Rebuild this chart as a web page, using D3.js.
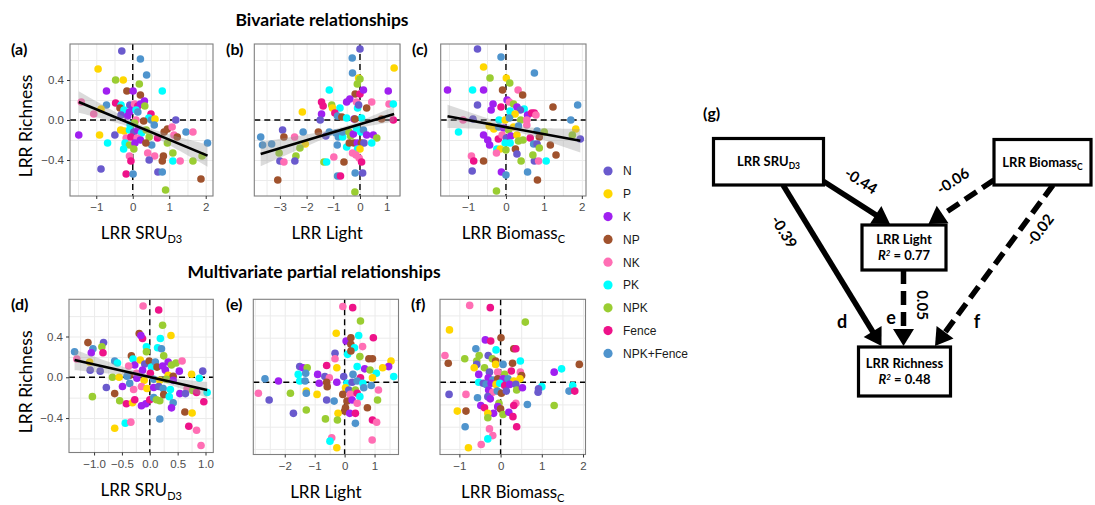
<!DOCTYPE html>
<html>
<head>
<meta charset="utf-8">
<script src="https://cdn.jsdelivr.net/npm/d3@7/dist/d3.min.js"></script>
<style>
  body { margin: 0; background: #fff; }
  svg { display: block; }
</style>
</head>
<body>
<svg id="chart" width="1095" height="505"></svg>
<script>
// ---- data ----
const groups = ["N", "P", "K", "NP", "NK", "PK", "NPK", "Fence", "NPK+Fence"];
const groupColors = ["#6A5ACD", "#FFD700", "#A020F0", "#A0522D", "#FF6EB4", "#00FFFF", "#9ACD32", "#EE1289", "#4F94CD"];

// [x, y, group index]
const pointsA = [[-0.30,0.69,0],[-0.95,0.51,1],[0.21,0.61,8],[0.38,0.45,8],[-0.47,0.40,6],[-0.26,0.40,1],[0.18,0.36,6],[-0.72,0.29,2],[-0.16,0.29,3],[0.01,0.29,2],[0.21,0.25,3],[0.81,0.29,5],[0.32,0.19,2],[-1.41,0.18,4],[-0.72,0.15,8],[-0.47,0.17,7],[-0.32,0.15,5],[-0.35,0.12,3],[-0.08,0.15,0],[0.01,0.13,2],[0.05,0.16,4],[0.14,0.14,7],[0.21,0.16,2],[0.33,0.14,6],[-0.24,0.10,5],[-0.09,0.08,2],[0.09,0.10,5],[0.14,0.08,8],[-0.87,0.11,1],[-1.07,0.06,4],[-0.32,0.05,0],[-0.14,0.04,2],[0.50,0.06,7],[0.44,0.02,5],[0.51,0.00,8],[0.61,0.01,1],[1.18,0.00,0],[0.09,0.00,4],[0.30,-0.01,3],[-0.07,-0.05,5],[0.05,-0.03,6],[-1.48,-0.15,2],[-0.91,-0.15,1],[-0.49,-0.15,0],[-0.33,-0.10,1],[-0.23,-0.11,1],[-0.09,-0.10,5],[0.03,-0.12,0],[0.14,-0.10,2],[0.24,-0.13,5],[0.37,-0.10,6],[0.59,-0.05,8],[0.86,-0.12,3],[0.95,-0.09,3],[1.08,-0.07,4],[1.13,-0.15,4],[1.46,-0.12,8],[1.65,-0.12,4],[1.22,-0.17,3],[-0.69,-0.23,5],[-0.18,-0.18,4],[-0.05,-0.17,7],[0.12,-0.18,4],[0.21,-0.20,2],[0.45,-0.17,6],[0.52,-0.25,8],[0.68,-0.18,7],[0.95,-0.23,6],[-0.21,-0.23,5],[-0.09,-0.25,6],[0.06,-0.23,2],[-0.25,-0.29,5],[0.03,-0.29,6],[0.36,-0.23,3],[2.05,-0.23,8],[-0.09,-0.36,4],[0.41,-0.33,4],[0.60,-0.36,4],[0.84,-0.36,3],[1.10,-0.33,6],[0.45,-0.40,0],[-0.05,-0.41,7],[0.81,-0.41,3],[1.10,-0.41,5],[1.30,-0.41,4],[1.65,-0.41,6],[1.90,-0.36,6],[-0.87,-0.49,0],[-0.18,-0.54,7],[0.01,-0.54,8],[0.69,-0.52,0],[0.81,-0.52,8],[1.87,-0.59,3],[0.90,-0.70,6]];

const pointsB = [[0,0.71,0],[-0.29,0.62,8],[1.28,0.52,1],[-0.28,0.47,8],[-0.05,0.42,1],[0,0.41,6],[-0.10,0.36,6],[-1.15,0.30,5],[-0.18,0.26,3],[0,0.26,7],[0.13,0.30,2],[1.06,0.29,2],[-0.38,0.21,2],[-0.50,0.18,2],[-0.13,0.18,4],[0.44,0.18,4],[-1.44,0.18,7],[-1.38,0.14,7],[-1.06,0.15,6],[-1.03,0.12,1],[-0.75,0.12,5],[-0.09,0.12,5],[0.25,0.12,3],[-0.05,0.15,0],[1.09,0.16,4],[1.25,0.16,5],[-2.16,0.08,1],[-1.44,0.06,2],[-0.94,0.07,7],[-0.84,0.04,8],[-0.68,0.03,3],[-0.50,0.02,5],[-0.22,0.01,2],[0.06,0.02,5],[-0.19,0.01,3],[0.81,0.01,3],[1.25,0,7],[-1.49,0,0],[-3.72,-0.17,8],[-3.65,-0.25,8],[-3.31,-0.24,8],[-2.9,-0.10,0],[-2.85,-0.17,3],[-2.45,-0.17,4],[-2.13,-0.12,8],[-2.05,-0.24,1],[-2.25,-0.28,6],[-1.56,-0.12,3],[-1.28,-0.16,0],[-1.15,-0.12,8],[-0.9,-0.13,8],[-0.81,-0.17,8],[-0.65,-0.17,5],[-0.65,-0.12,8],[-0.41,-0.12,6],[-0.35,-0.16,6],[-0.25,-0.14,2],[-0.13,-0.08,5],[0.03,-0.12,5],[0.13,-0.10,8],[0.25,-0.15,2],[0.5,-0.15,2],[0.63,-0.18,6],[-0.85,-0.25,8],[-0.5,-0.27,5],[-0.4,-0.23,3],[-0.22,-0.23,3],[-0.1,-0.23,2],[0.05,-0.23,3],[0.15,-0.23,0],[0.44,-0.23,5],[-0.09,-0.29,5],[0,-0.29,1],[-0.28,-0.33,4],[-0.15,-0.35,4],[-0.03,-0.38,4],[0.06,-0.42,7],[-3.03,-0.33,6],[-2.4,-0.36,6],[-3.0,-0.41,0],[-2.85,-0.42,4],[-2.44,-0.41,0],[-0.98,-0.37,4],[-1.35,-0.42,6],[-1.25,-0.42,5],[-0.6,-0.42,3],[-0.84,-0.56,8],[-0.73,-0.56,7],[-0.18,-0.53,8],[0.1,-0.53,0],[-3.08,-0.60,3],[-0.19,-0.72,6]];

const pointsC = [[-0.75,0.71,0],[-0.13,0.63,8],[-0.59,0.53,1],[0.75,0.47,8],[-0.42,0.42,6],[0.01,0.42,1],[0.10,0.37,6],[-1.54,0.30,2],[-0.88,0.30,5],[-0.59,0.30,2],[-0.09,0.30,3],[0.32,0.30,4],[0.44,0.25,3],[-0.75,0.15,0],[-0.34,0.16,2],[-0.13,0.13,7],[-0.39,0.10,2],[0.03,0.20,2],[0.09,0.18,4],[0.20,0.16,6],[0.29,0.13,2],[0.48,0.11,5],[0.38,0.10,0],[1.24,0.13,3],[1.89,0.15,8],[0.11,0.09,5],[0.13,0.05,5],[0.24,0.06,1],[0.57,0.05,2],[0.68,0.07,7],[0.75,0.07,7],[0.79,0.05,4],[-1.13,0,4],[-0.87,0.01,0],[-0.18,0,5],[-0.02,0,1],[0.09,0.02,8],[0.39,0,6],[0.55,0,4],[1.71,0,8],[-1.25,-0.12,5],[-0.44,-0.06,1],[-0.32,-0.09,1],[-0.19,-0.07,8],[-0.06,-0.08,2],[0.07,-0.10,6],[0.20,-0.07,1],[0.33,-0.06,8],[0.55,-0.05,4],[0.82,-0.11,8],[1.01,-0.12,6],[1.84,-0.09,1],[1.75,-0.15,6],[1.96,-0.19,0],[-0.59,-0.15,2],[-0.48,-0.20,2],[-0.43,-0.25,2],[-0.20,-0.19,7],[-0.10,-0.15,4],[0.01,-0.18,0],[0.13,-0.16,2],[0.29,-0.15,1],[0.33,-0.21,6],[0.45,-0.20,6],[0.64,-0.18,7],[0.88,-0.17,3],[-0.02,-0.23,5],[0.11,-0.23,5],[0.73,-0.24,8],[0.82,-0.24,0],[1.17,-0.25,3],[-0.24,-0.29,5],[-0.15,-0.29,1],[0,-0.30,6],[0.25,-0.29,3],[-0.25,-0.33,4],[0.29,-0.34,0],[0.88,-0.28,6],[-0.91,-0.36,4],[-0.85,-0.41,7],[-0.59,-0.41,3],[0.40,-0.41,6],[0.75,-0.41,0],[0.86,-0.41,4],[1.06,-0.41,5],[0.71,-0.35,6],[1.32,-0.35,3],[-0.89,-0.51,0],[-0.12,-0.52,2],[0,-0.55,8],[0.57,-0.52,8],[0.83,-0.60,3],[-0.25,-0.71,6]];

const pointsD = [[-0.12,0.70,4],[0.16,0.66,7],[0.23,0.51,6],[0.38,0.41,1],[-0.19,0.43,3],[-0.13,0.38,7],[-0.16,0.41,2],[0.19,0.38,5],[-1.11,0.34,3],[-0.83,0.34,0],[-1.35,0.25,8],[-1.02,0.28,8],[-1.05,0.24,2],[-0.86,0.30,6],[-0.84,0.24,7],[-0.06,0.30,5],[-0.06,0.25,6],[0.14,0.29,5],[0.21,0.28,8],[0.25,0.21,6],[-0.33,0.21,3],[-1.31,0.18,4],[-1.08,0.15,1],[-0.63,0.16,8],[-0.58,0.14,5],[-0.30,0.18,5],[-0.27,0.12,2],[-0.17,0.17,1],[-0.09,0.13,0],[-0.01,0.16,3],[0.03,0.10,5],[0.10,0.15,8],[0.13,0.10,3],[0.23,0.11,2],[0.33,0.15,2],[0.39,0.12,6],[0.47,0.14,6],[0.58,0.16,4],[0.95,0.06,0],[-1.07,0.07,0],[-0.89,0.06,0],[-0.38,0.11,4],[-0.36,0.02,3],[-0.24,0.04,4],[-0.13,0.07,2],[0.01,0.04,7],[0.28,0.07,2],[0.33,0.02,1],[0.42,0.01,3],[0.53,0.06,2],[0.75,0.03,1],[0.89,-0.01,5],[-0.67,0,6],[-0.55,0,1],[-0.41,0.01,8],[-0.23,-0.01,2],[-0.10,-0.03,1],[0.07,-0.02,8],[0.18,-0.03,1],[0.30,-0.02,6],[0.42,-0.03,2],[-0.78,-0.10,0],[-0.49,-0.09,2],[-0.36,-0.06,8],[-0.29,-0.12,4],[-0.15,-0.09,4],[-0.05,-0.11,1],[0.07,-0.10,2],[0.16,-0.09,0],[0.24,-0.11,8],[0.37,-0.12,5],[0.67,-0.11,4],[0.54,-0.16,2],[0.64,-0.16,0],[0.77,-0.13,6],[0.84,-0.15,7],[1.03,-0.15,5],[-0.63,-0.16,3],[-1.03,-0.19,6],[-0.54,-0.23,6],[-0.42,-0.26,7],[-0.31,-0.25,1],[-0.27,-0.22,7],[-0.15,-0.28,2],[-0.07,-0.26,2],[0,-0.22,7],[0.07,-0.20,8],[0.12,-0.22,6],[0.18,-0.23,6],[0.25,-0.17,3],[0.35,-0.19,5],[0.42,-0.25,8],[0.39,-0.30,2],[0.63,-0.34,3],[0.76,-0.35,1],[0.97,-0.24,7],[-0.63,-0.50,1],[-0.44,-0.45,5],[-0.34,-0.44,4],[0.18,-0.41,8],[0.70,-0.48,7],[0.84,-0.52,4],[0.92,-0.67,4]];

const pointsE = [[-0.06,0.68,4],[0.27,0.67,7],[0.53,0.55,6],[-0.28,0.44,1],[0.05,0.37,2],[0.21,0.40,3],[0.47,0.42,5],[0.96,0.40,7],[0.21,0.34,3],[0.33,0.31,5],[0.60,0.32,4],[-0.32,0.26,0],[-0.32,0.21,4],[0.10,0.25,5],[0.21,0.28,3],[0.51,0.23,6],[0.81,0.21,3],[0.93,0.21,3],[1.55,0.19,1],[1.47,0.14,2],[1.27,0.13,1],[-1.50,0.14,0],[-1.39,0.13,2],[-1.25,0.13,6],[-0.60,0.15,7],[-0.26,0.13,1],[0.42,0.14,5],[0.67,0.12,2],[0.85,0.11,6],[1.06,0.08,5],[-1.55,0.07,5],[-1.30,0.08,8],[-0.90,0.07,2],[-0.66,0.05,0],[-0.51,0.04,4],[-0.03,0.05,0],[0.28,0.07,8],[0.53,0.04,7],[0.93,0.04,1],[1.64,0.05,5],[-2.66,0.03,8],[-2.21,0.01,2],[-1.50,0.01,5],[-1.32,0.01,8],[-0.85,-0.01,2],[-0.60,0,3],[-0.58,-0.04,3],[-0.26,0,2],[0.08,-0.01,5],[0.25,0,0],[0.42,0.01,8],[0.61,-0.01,5],[0.89,-0.03,8],[-1.28,-0.08,1],[0.03,-0.05,1],[0.14,-0.07,0],[0.36,-0.07,6],[0.64,-0.05,8],[1.13,-0.07,4],[-2.88,-0.10,4],[-1.81,-0.10,6],[-1.28,-0.10,8],[-0.92,-0.11,1],[-0.06,-0.11,3],[0.19,-0.11,4],[0.42,-0.10,7],[0.51,-0.13,5],[-2.52,-0.16,0],[-0.60,-0.16,0],[-0.35,-0.17,8],[0.08,-0.17,3],[0.25,-0.16,2],[0.42,-0.19,4],[1.10,-0.16,6],[-1.28,-0.25,6],[0.03,-0.23,3],[0,-0.26,3],[0.17,-0.28,2],[0.36,-0.28,7],[0.76,-0.23,3],[-1.71,-0.28,0],[-0.22,-0.28,1],[-0.64,-0.33,6],[-0.24,-0.34,6],[0.36,-0.37,8],[0.93,-0.34,7],[1.07,-0.36,4],[-0.43,-0.50,4],[-0.49,-0.53,5],[0.92,-0.52,4],[-0.26,-0.59,1]];

const pointsF = [[-0.75,0.69,4],[-0.25,0.67,7],[0.60,0.54,6],[-1.24,0.47,1],[0.01,0.40,3],[-0.37,0.38,2],[-0.24,0.37,7],[-0.60,0.30,8],[-0.11,0.29,5],[0.32,0.30,3],[0.37,0.30,7],[-1.35,0.24,4],[-1.27,0.17,3],[-0.87,0.21,6],[-0.58,0.19,6],[-0.52,0.24,6],[-0.30,0.24,0],[-0.20,0.21,6],[-0.12,0.19,3],[-0.58,0.16,0],[-0.64,0.13,1],[-0.39,0.13,6],[-0.12,0.16,1],[0.06,0.16,8],[0.29,0.17,3],[0.48,0.19,5],[1.91,0.16,3],[1.48,0.12,5],[1.30,0.09,2],[-0.53,0.07,2],[-0.27,0.09,0],[-0.07,0.09,4],[0.10,0.07,6],[0.26,0.10,7],[0.48,0.09,4],[0.51,0.06,3],[-0.30,0.04,2],[-0.19,0.02,8],[-0.07,0.03,3],[0.06,0.03,2],[0.18,0.03,8],[0.32,0.01,1],[0.47,0.03,1],[-0.53,0,5],[-0.42,-0.01,0],[-0.35,-0.02,8],[-0.23,-0.01,2],[-0.11,-0.02,1],[-0.02,-0.01,5],[0.10,-0.03,7],[0.22,-0.02,2],[0.37,-0.02,0],[1.00,-0.04,5],[0.92,-0.06,0],[0.91,-0.09,0],[1.75,-0.03,5],[1.66,-0.08,8],[1.80,-0.08,7],[-1.25,-0.11,0],[-0.84,-0.11,4],[-0.29,-0.07,2],[-0.19,-0.09,4],[-0.08,-0.08,8],[0.02,-0.10,3],[0.14,-0.08,0],[0.39,-0.07,6],[0.53,-0.05,2],[-0.56,-0.14,8],[-0.31,-0.13,0],[-0.25,-0.15,2],[-0.04,-0.19,6],[0.37,-0.19,4],[0.32,-0.21,7],[0.65,-0.20,8],[1.30,-0.21,6],[-0.48,-0.21,2],[-0.39,-0.23,7],[-0.07,-0.22,2],[0,-0.24,3],[-0.17,-0.28,2],[0.06,-0.29,6],[0.20,-0.27,2],[-1.05,-0.26,1],[-0.84,-0.26,3],[-0.31,-0.28,1],[-0.31,-0.32,6],[0.30,-0.31,7],[-0.86,-0.40,8],[-0.27,-0.42,4],[-0.19,-0.48,4],[-0.31,-0.51,5],[0.39,-0.40,7],[-0.47,-0.56,4],[-0.78,-0.59,1]];

// fitted linear trends with 95% band (se = sqrt(seMin^2 + seK*(x - xMean)^2))
const fitA = { intercept: -0.045, slope: -0.152, xMean: 0.25, seMin: 0.03, seK: 0.0035 };
const fitB = { intercept: -0.043, slope: 0.080, xMean: -0.6, seMin: 0.025, seK: 0.00144 };
const fitC = { intercept: -0.071, slope: -0.070, xMean: 0.2, seMin: 0.03, seK: 0.0042 };
const fitD = { intercept: 0.003, slope: -0.124, xMean: 0.0, seMin: 0.02, seK: 0.0053 };

// structural equation model
const semNodes = [
  { id: "SRU", lines: [["LRR SRU", "D3"]] },
  { id: "Biomass", lines: [["LRR Biomass", "C"]] },
  { id: "Light", lines: [["LRR Light", ""], ["R2", "0.77"]] },
  { id: "Richness", lines: [["LRR Richness", ""], ["R2", "0.48"]] }
];
const semEdges = [
  { from: "SRU", to: "Light", coef: "-0.44", dashed: false },
  { from: "Biomass", to: "Light", coef: "-0.06", dashed: true },
  { from: "SRU", to: "Richness", coef: "-0.39", dashed: false },
  { from: "Light", to: "Richness", coef: "0.05", dashed: true },
  { from: "Biomass", to: "Richness", coef: "-0.02", dashed: true }
];

// ---- layout ----
const svg = d3.select("#chart");
const titleFont = "Lato, 'Open Sans', sans-serif";
const tickFont = "'Liberation Sans', Arial, sans-serif";

const panels = [
  { label: "(a)", lx: 11, pts: pointsA, fit: fitA, box: [70, 44, 213, 196], xd: [-1.72, 2.2], yd: [-0.76, 0.76],
    xt: [-1, 0, 1, 2], xg: 0.5, yt: [-0.4, 0, 0.4], fmt: d3.format("d"), title: ["LRR SRU", "D3"], yLab: true },
  { label: "(b)", lx: 226, pts: pointsB, fit: fitB, box: [254.3, 44, 400, 196], xd: [-3.96, 1.5], yd: [-0.76, 0.76],
    xt: [-3, -2, -1, 0, 1], xg: 0.5, fmt: d3.format("d"), title: ["LRR Light", ""] },
  { label: "(c)", lx: 412, pts: pointsC, fit: fitC, box: [440.7, 44, 586, 196], xd: [-1.72, 2.11], yd: [-0.76, 0.76],
    xt: [-1, 0, 1, 2], xg: 0.5, fmt: d3.format("d"), title: ["LRR Biomass", "C"] },
  { label: "(d)", lx: 11, pts: pointsD, fit: fitD, box: [69, 299.3, 213.3, 452.5], xd: [-1.45, 1.14], yd: [-0.738, 0.765],
    xt: [-1, -0.5, 0, 0.5, 1], xg: 0.25, yt: [-0.4, 0, 0.4], fmt: d3.format(".1f"), title: ["LRR SRU", "D3"], yLab: true },
  { label: "(e)", lx: 226, pts: pointsE, box: [253.3, 299.3, 398.5, 454.5], xd: [-3.05, 1.8], yd: [-0.65, 0.745],
    xt: [-2, -1, 0, 1], xg: 0.5, fmt: d3.format("d"), title: ["LRR Light", ""] },
  { label: "(f)", lx: 411, pts: pointsF, box: [440, 299.3, 585.5, 454.5], xd: [-1.47, 2.06], yd: [-0.65, 0.745],
    xt: [-1, 0, 1, 2], xg: 0.5, fmt: d3.format("d"), title: ["LRR Biomass", "C"] }
];

function gridValues(dom, step) {
  return d3.range(Math.ceil(dom[0] / step) * step, dom[1] + 1e-9, step);
}

function drawPanel(p) {
  const [x0, y0, x1, y1] = p.box;
  const x = d3.scaleLinear().domain(p.xd).range([x0, x1]);
  const y = d3.scaleLinear().domain(p.yd).range([y1, y0]);
  const g = svg.append("g");

  // 背景格線
  g.append("g").attr("transform", `translate(0,${y1})`)
    .call(d3.axisBottom(x).tickValues(gridValues(p.xd, p.xg)).tickSize(-(y1 - y0)).tickFormat(""))
    .call(s => s.select(".domain").remove())
    .call(s => s.selectAll("line").attr("stroke", "#EBEBEB").attr("stroke-width", 1));
  g.append("g").attr("transform", `translate(${x0},0)`)
    .call(d3.axisLeft(y).tickValues(gridValues(p.yd, 0.2)).tickSize(-(x1 - x0)).tickFormat(""))
    .call(s => s.select(".domain").remove())
    .call(s => s.selectAll("line").attr("stroke", "#EBEBEB").attr("stroke-width", 1));

  // 零值參考虛線
  g.append("line").attr("x1", x(0)).attr("x2", x(0)).attr("y1", y0).attr("y2", y1)
    .attr("stroke", "#000").attr("stroke-width", 1.4).attr("stroke-dasharray", "6,4");
  g.append("line").attr("x1", x0).attr("x2", x1).attr("y1", y(0)).attr("y2", y(0))
    .attr("stroke", "#000").attr("stroke-width", 1.4).attr("stroke-dasharray", "6,4");

  // 資料點
  g.append("g").selectAll("circle").data(p.pts).join("circle")
    .attr("cx", d => x(d[0])).attr("cy", d => y(d[1])).attr("r", 3.8)
    .attr("fill", d => groupColors[d[2]]);

  // 迴歸線與信賴帶
  if (p.fit) {
    const f = p.fit;
    const ext = d3.extent(p.pts, d => d[0]);
    const xs = d3.range(0, 61).map(i => ext[0] + (ext[1] - ext[0]) * i / 60);
    const mu = v => f.intercept + f.slope * v;
    const se = v => Math.sqrt(f.seMin * f.seMin + f.seK * (v - f.xMean) ** 2);
    g.append("path").datum(xs)
      .attr("d", d3.area().x(v => x(v)).y0(v => y(mu(v) - se(v))).y1(v => y(mu(v) + se(v))))
      .attr("fill", "#999").attr("fill-opacity", 0.35);
    g.append("line").attr("x1", x(ext[0])).attr("y1", y(mu(ext[0])))
      .attr("x2", x(ext[1])).attr("y2", y(mu(ext[1])))
      .attr("stroke", "#000").attr("stroke-width", 2.6);
  }

  // 外框
  g.append("rect").attr("x", x0).attr("y", y0).attr("width", x1 - x0).attr("height", y1 - y0)
    .attr("fill", "none").attr("stroke", "#7F7F7F").attr("stroke-width", 1.1);

  // x 軸刻度
  const ax = g.append("g").attr("transform", `translate(0,${y1})`)
    .call(d3.axisBottom(x).tickValues(p.xt).tickSize(3).tickPadding(4).tickFormat(p.fmt));
  ax.select(".domain").remove();
  ax.selectAll("line").attr("stroke", "#333");
  ax.selectAll("text").attr("fill", "#4D4D4D").style("font-family", tickFont).style("font-size", "11.5px");

  if (p.yLab) {
    const ay = g.append("g").attr("transform", `translate(${x0},0)`)
      .call(d3.axisLeft(y).tickValues(p.yt).tickSize(3).tickPadding(3).tickFormat(d3.format(".1f")));
    ay.select(".domain").remove();
    ay.selectAll("line").attr("stroke", "#333");
    ay.selectAll("text").attr("fill", "#4D4D4D").style("font-family", tickFont).style("font-size", "11.5px");
    svg.append("text")
      .attr("transform", `translate(32,${(y0 + y1) / 2 + 6}) rotate(-90)`)
      .attr("text-anchor", "middle")
      .style("font-family", titleFont).style("font-size", "17.5px")
      .text("LRR Richness");
  }

  // x 軸標題（含下標）
  const t = svg.append("text").attr("x", (x0 + x1) / 2).attr("y", y1 + 43)
    .attr("text-anchor", "middle")
    .style("font-family", titleFont).style("font-size", "17px");
  t.append("tspan").text(p.title[0]);
  if (p.title[1]) t.append("tspan").attr("dy", 4).style("font-size", "11px").text(p.title[1]);

  // 面板編號
  svg.append("text").attr("x", p.lx).attr("y", y0 + 11)
    .style("font-family", titleFont).style("font-weight", "bold").style("font-size", "16px")
    .text(p.label);
}

panels.forEach(drawPanel);

// 標題
svg.append("text").attr("x", 322).attr("y", 26).attr("text-anchor", "middle")
  .style("font-family", titleFont).style("font-weight", "bold").style("font-size", "17.5px")
  .text("Bivariate relationships");
svg.append("text").attr("x", 314).attr("y", 278).attr("text-anchor", "middle")
  .style("font-family", titleFont).style("font-weight", "bold").style("font-size", "17.5px")
  .text("Multivariate partial relationships");

// 圖例
const legend = svg.append("g").attr("transform", "translate(608,171)");
groups.forEach((name, i) => {
  const row = legend.append("g").attr("transform", `translate(0,${i * 22.8})`);
  row.append("circle").attr("r", 4.6).attr("fill", groupColors[i]);
  row.append("text").attr("x", 15).attr("y", 4.3)
    .style("font-family", tickFont).style("font-size", "12px").attr("fill", "#1a1a1a")
    .text(name);
});

// ---- (g) path diagram ----
const boxes = {
  SRU: [713.5, 138.5, 823.5, 185],
  Biomass: [994, 139.5, 1091, 185],
  Light: [862, 225, 946, 270],
  Richness: [858.5, 347, 950.5, 396]
};
const edgeGeom = {
  "SRU-Light": { a: [823, 181], b: [890, 224], lab: [861, 181], rot: 32 },
  "Biomass-Light": { a: [994, 180], b: [928.5, 224], lab: [953, 181], rot: -33 },
  "SRU-Richness": { a: [783, 185], b: [881.5, 346], lab: [784, 232], rot: 58 },
  "Light-Richness": { a: [903.5, 270], b: [903.5, 346], lab: [922.5, 305], rot: 90 },
  "Biomass-Richness": { a: [1053, 185], b: [935, 346], lab: [1040, 230], rot: -53 }
};
const letters = [["d", 842, 322], ["e", 891, 318], ["f", 977, 322]];

svg.append("text").attr("x", 703).attr("y", 119)
  .style("font-family", titleFont).style("font-weight", "bold").style("font-size", "16px").text("(g)");

semEdges.forEach(e => {
  const geo = edgeGeom[`${e.from}-${e.to}`];
  const [ax, ay] = geo.a, [bx, by] = geo.b;
  const len = Math.hypot(bx - ax, by - ay);
  const ux = (bx - ax) / len, uy = (by - ay) / len;
  const headL = 17, headW = 10.5;
  const hx = bx - ux * headL, hy = by - uy * headL;
  svg.append("line").attr("x1", ax).attr("y1", ay).attr("x2", hx + ux * 2).attr("y2", hy + uy * 2)
    .attr("stroke", "#000").attr("stroke-width", 5.5)
    .attr("stroke-dasharray", e.dashed ? "14,7" : null);
  svg.append("path")
    .attr("d", d3.line()([[bx, by], [hx - uy * headW, hy + ux * headW], [hx + uy * headW, hy - ux * headW]]) + "Z")
    .attr("fill", "#000");
  svg.append("text")
    .attr("transform", `translate(${geo.lab[0]},${geo.lab[1]}) rotate(${geo.rot})`)
    .attr("text-anchor", "middle").attr("dy", "0.35em")
    .style("font-family", titleFont).style("font-weight", "bold").style("font-size", "15px")
    .text(e.coef);
});

letters.forEach(([s, lx, ly]) => {
  svg.append("text").attr("x", lx).attr("y", ly).attr("dy", "0.35em").attr("text-anchor", "middle")
    .style("font-family", titleFont).style("font-weight", "bold").style("font-size", "18px").text(s);
});

semNodes.forEach(n => {
  const [x0, y0, x1, y1] = boxes[n.id];
  svg.append("rect").attr("x", x0).attr("y", y0).attr("width", x1 - x0).attr("height", y1 - y0)
    .attr("fill", "#fff").attr("stroke", "#000").attr("stroke-width", 3.2);
  const cx = (x0 + x1) / 2, cy = (y0 + y1) / 2;
  const n0 = n.lines.length;
  n.lines.forEach((ln, i) => {
    const t = svg.append("text").attr("x", cx).attr("y", cy + (i - (n0 - 1) / 2) * 16)
      .attr("dy", "0.35em").attr("text-anchor", "middle")
      .style("font-family", titleFont).style("font-weight", "bold").style("font-size", "13px");
    if (ln[0] === "R2") {
      t.append("tspan").style("font-style", "italic").text("R");
      t.append("tspan").attr("dy", -4).style("font-size", "8px").style("font-style", "italic").text("2");
      t.append("tspan").attr("dy", 4).text(" = " + ln[1]);
    } else {
      t.append("tspan").text(ln[0]);
      if (ln[1]) t.append("tspan").attr("dy", 3).style("font-size", "8.5px").text(ln[1]);
    }
  });
});
</script>
</body>
</html>
